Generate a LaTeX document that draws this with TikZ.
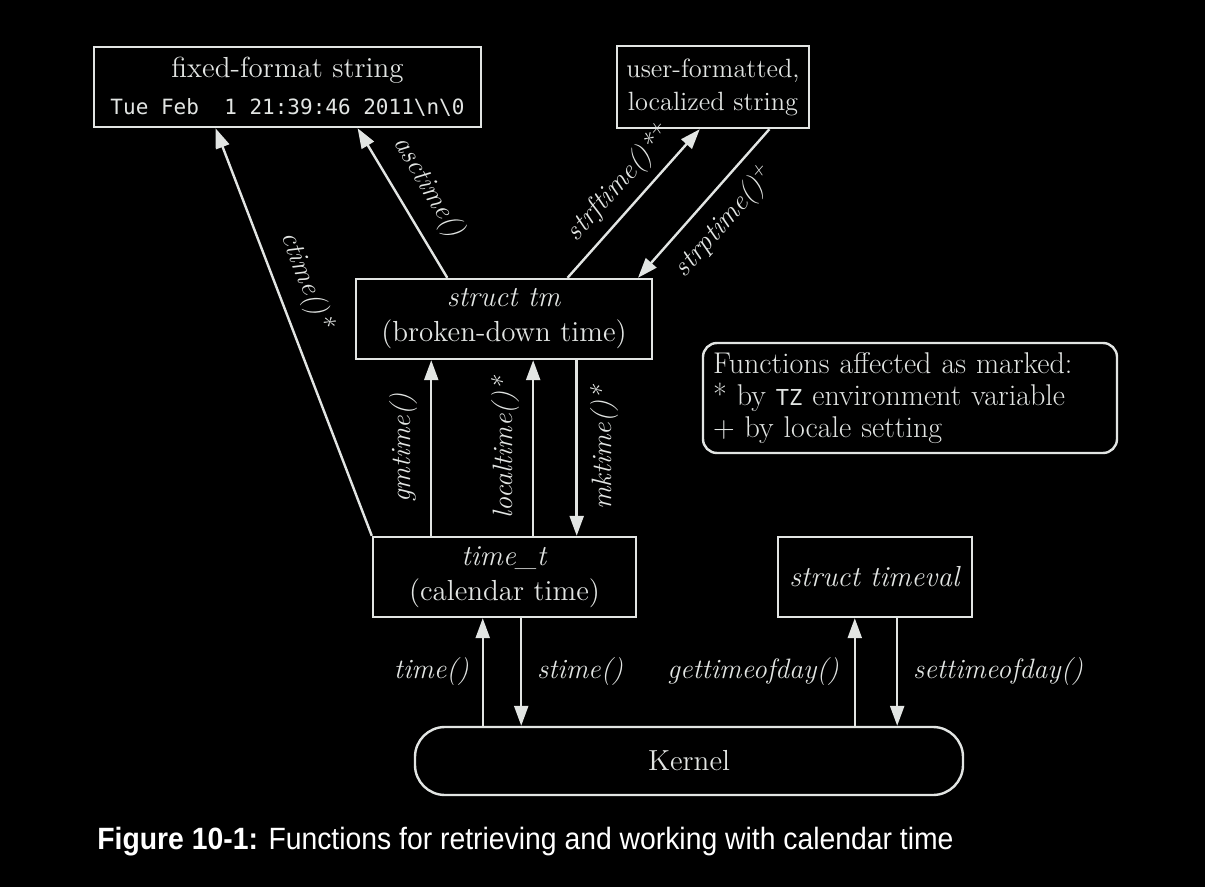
\documentclass[tikz,border=0pt]{standalone}
\usepackage{fontspec}
\newfontfamily\codefont{DejaVu Sans Mono}
\newfontfamily\capfont[FakeStretch=0.92]{Liberation Sans}
\usepackage{tikz}
\usetikzlibrary{arrows.meta,calc}
\definecolor{fg}{RGB}{226,229,227}

\begin{document}
\begin{tikzpicture}[x=0.5pt,y=-0.5pt]
				\path[use as bounding box,fill=black] (0,0) rectangle (1205,887);
				
				\begin{scope}[every node/.style={draw=fg,text=fg,line width=1.2pt,inner sep=0pt,
						align=center,minimum height=40pt,font=\fontsize{14.5}{17.5}\selectfont}]
					\node[minimum width=193.5pt] (fixed) at (287.5,87) {fixed-format string\\[1pt]{\codefont\fontsize{10.5}{13}\selectfont Tue Feb\ \ 1 21:39:46 2011\textbackslash n\textbackslash 0}};
					\node[minimum width=96pt,minimum height=41pt,font=\fontsize{13.2}{16.5}\selectfont] (user) at (713,87) {user-formatted,\\localized string};
					\node[minimum width=148pt] (tm) at (504,319) {\textit{struct tm}\\(broken-down time)};
					\node[minimum width=131.5pt] (tmt) at (504.5,577) {\textit{time\_t}\\(calendar time)};
					\node[minimum width=97pt] (tv) at (875,577) {\textit{struct timeval}};
					\node[minimum width=274pt,minimum height=34pt,rounded corners=15pt] (kern) at (689,761) {Kernel};
					\node[minimum width=207pt,minimum height=55pt,text width=197pt,inner xsep=5pt,align=left,
						rounded corners=7pt,font=\fontsize{15}{16}\selectfont] (legend) at (910,398)
						{Functions affected as marked:\\{*} by {\codefont\fontsize{11}{12}\selectfont TZ} environment variable\\+ by locale setting};
				\end{scope}
				
				% points on the box edges
				\coordinate (gm) at ($(tmt.north west)!0.224!(tmt.north east)$);
				\coordinate (lt) at ($(tmt.north west)!0.608!(tmt.north east)$);
				\coordinate (mk) at ($(tmt.north west)!0.772!(tmt.north east)$);
				\coordinate (ti) at ($(tmt.south west)!0.418!(tmt.south east)$);
				\coordinate (st) at ($(tmt.south west)!0.563!(tmt.south east)$);
				\coordinate (gt) at ($(tv.south west)!0.397!(tv.south east)$);
				\coordinate (sst) at ($(tv.south west)!0.613!(tv.south east)$);
				
				\begin{scope}[>={Triangle[length=10pt,width=7pt]},
					every node/.style={text=fg,font=\itshape\fontsize{14}{16}\selectfont},
					every edge/.style={draw=fg,line width=1.2pt}]
					\path [->] (tmt.north west) edge node[sloped,above=4pt,pos=0.6] {ctime()*} ($(fixed.south west)!0.315!(fixed.south east)$);
					\path [->] ($(tm.north west)!0.31!(tm.north east)$) edge node[sloped,above=4pt,pos=0.5] {asctime()} ($(fixed.south west)!0.68!(fixed.south east)$);
					\path [->] ($(tm.north west)!0.713!(tm.north east)$) edge node[sloped,above=1pt,pos=0.53] {strftime()*\textsuperscript{+}} ($(user.south west)!0.432!(user.south east)$);
					\path [->] ($(user.south west)!0.79!(user.south east)$) edge node[sloped,below=3pt,pos=0.5] {strptime()\textsuperscript{+}} ($(tm.north west)!0.949!(tm.north east)$);
					
					\path [->] (gm) edge node[rotate=90,above=3pt] {gmtime()} (gm |- tm.south);
					\path [->] (lt) edge node[rotate=90,above=3pt] {localtime()*} (lt |- tm.south);
					\path [->] (mk |- tm.south) edge node[rotate=90,below=3pt] {mktime()*} (mk);
					
					\path [->] (ti |- kern.north) edge node[left=3pt] {time()} (ti);
					\path [->] (st) edge node[right=4pt] {stime()} (st |- kern.north);
					\path [->] (gt |- kern.north) edge node[left=4pt] {gettimeofday()} (gt);
					\path [->] (sst) edge node[right=4pt] {settimeofday()} (sst |- kern.north);
				\end{scope}
				
				\node[anchor=base west,inner sep=0pt,text=white,font=\capfont\fontsize{15.4}{18}\selectfont] (caption) at (97,849)
					{\textbf{Figure 10-1:} Functions for retrieving and working with calendar time};
			\end{tikzpicture}
\end{document}
